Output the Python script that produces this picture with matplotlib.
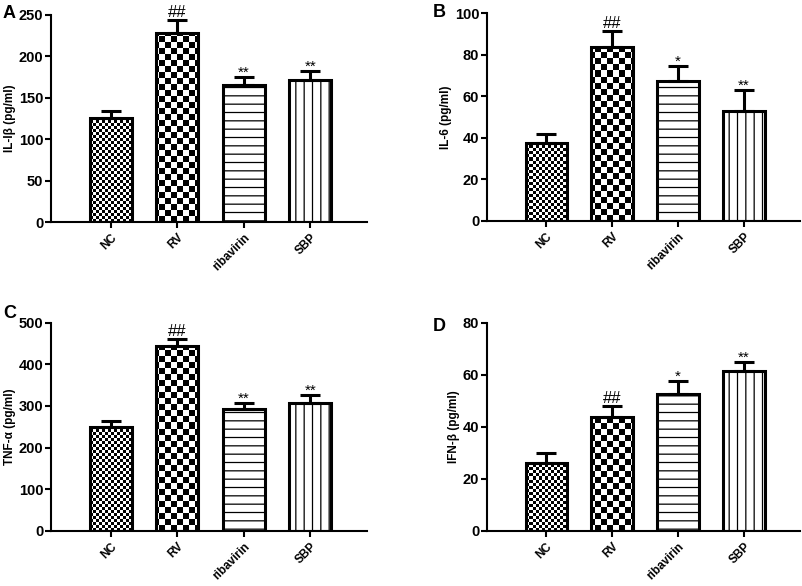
import numpy as np
import matplotlib
matplotlib.use("Agg")
import matplotlib.pyplot as plt

plt.rcParams['font.family'] = ['Liberation Sans', 'DejaVu Sans']
plt.rcParams['font.weight'] = 'bold'
plt.rcParams['hatch.linewidth'] = 0.9

groups = ['NC', 'RV', 'ribavirin', 'SBP']

il1b = [125, 228, 165.5, 171.5]
il1b_err = [9, 15.5, 9.5, 11]
il6 = [37.3, 83.6, 67.2, 53.1]
il6_err = [4.3, 8.0, 7.6, 9.8]
tnfa = [249, 445, 291.5, 307.5]
tnfa_err = [15, 15.5, 14.5, 18.5]
ifnb = [25.9, 43.7, 52.7, 61.4]
ifnb_err = [4.0, 4.2, 4.9, 3.6]

panels = [
    ('A', 'IL-Iβ (pg/ml)', il1b, il1b_err, 250, 50, ['', '##', '**', '**']),
    ('B', 'IL-6 (pg/ml)', il6, il6_err, 100, 20, ['', '##', '*', '**']),
    ('C', 'TNF-α (pg/ml)', tnfa, tnfa_err, 500, 100, ['', '##', '**', '**']),
    ('D', 'IFN-β (pg/ml)', ifnb, ifnb_err, 80, 20, ['', '##', '*', '**']),
]

W, H = 803, 586
# axes boxes in pixels: left, top, right, bottom
boxes = [(51, 15, 367, 222), (487, 13.3, 800, 220.7),
         (51, 322.7, 367, 530.7), (487, 322.7, 800, 530.7)]
letter_pos = [(3, 5), (433, 4), (3, 305), (433, 318)]

fig = plt.figure(figsize=(W / 100, H / 100), dpi=100)

x = np.arange(len(groups))
bw = 0.63
xlim = (-0.9, 3.85)

for (letter, ylab, vals, errs, ymax, step, marks), (l, t, r, b), (lx, ly) in zip(panels, boxes, letter_pos):
    ax = fig.add_axes([l / W, 1 - b / H, (r - l) / W, (b - t) / H])
    ax.set_xlim(*xlim)
    ax.set_ylim(0, ymax)

    bars = ax.bar(x, vals, width=bw, facecolor='white', edgecolor='black',
                  linewidth=0, zorder=1)
    bars[2].set_hatch('--')
    bars[3].set_hatch('||')

    # checkerboards for NC (fine) and RV (coarse)
    wpx, hpx = r - l, b - t
    for idx, s in ((0, 3), (1, 6)):
        nx, ny = int(np.ceil(wpx / s)), int(np.ceil(hpx / s))
        board = (np.add.outer(np.arange(ny), np.arange(nx)) % 2).astype(float)
        im = ax.imshow(board, cmap='gray', interpolation='nearest', aspect='auto',
                       extent=(xlim[0], xlim[0] + nx * s * (xlim[1] - xlim[0]) / wpx,
                               0, ny * s * ymax / hpx),
                       origin='lower', zorder=2)
        im.set_clip_path(bars[idx])
    ax.set_xlim(*xlim)
    ax.set_ylim(0, ymax)

    ax.bar(x, vals, width=bw, fill=False, edgecolor='black', linewidth=2.2, zorder=3)
    ax.errorbar(x, vals, yerr=[[0] * 4, errs], fmt='none', ecolor='black',
                elinewidth=2.2, capsize=7, capthick=2.2, zorder=2.5)

    for xi, v, e, m in zip(x, vals, errs, marks):
        if m:
            ax.annotate(m, (xi, v + e), xytext=(0, 0 if m == '##' else -2),
                        textcoords='offset points', ha='center', va='bottom',
                        fontsize=12 if m == '##' else 11,
                        fontweight='normal', clip_on=False)

    ax.spines['top'].set_visible(False)
    ax.spines['right'].set_visible(False)
    ax.spines['left'].set_linewidth(1.5)
    ax.spines['bottom'].set_linewidth(1.5)
    ax.set_yticks(np.arange(0, ymax + 1, step))
    ax.set_xticks(x)
    ax.set_xticklabels(groups, rotation=45, ha='right', rotation_mode='anchor',
                       fontsize=8.5, fontweight='bold')
    ax.tick_params(axis='y', labelsize=10.5, width=1.5, length=4, pad=1.5)
    ax.tick_params(axis='x', width=1.5, length=4, pad=3)
    ax.set_ylabel(ylab, fontsize=8.5, fontweight='bold', labelpad=2)

    fig.text(lx / W, 1 - ly / H, letter, fontsize=13, fontweight='bold',
             ha='left', va='top')

fig.savefig('out.png', dpi=100)
